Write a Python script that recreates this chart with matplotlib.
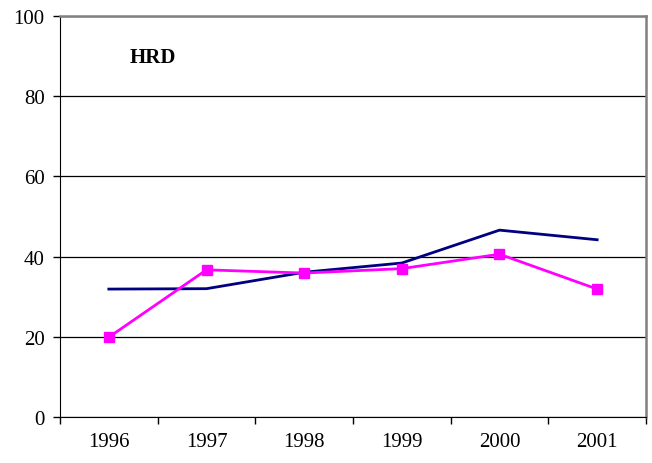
import matplotlib.pyplot as plt
import numpy as np

plt.rcParams['font.family'] = ['Liberation Serif', 'DejaVu Serif']

years = ['1996', '1997', '1998', '1999', '2000', '2001']
navy_vals = [31.9, 32.0, 36.1, 38.4, 46.6, 44.2]
pink_vals = [19.9, 36.7, 35.9, 37.0, 40.6, 31.9]

fig = plt.figure(figsize=(6.52, 4.64), dpi=100)
ax = fig.add_axes([60/652, 1 - 418/464, 586/652, 401/464])

x = np.arange(len(years))
ax.plot(x, navy_vals, color='#000080', lw=2, zorder=3)
ax.plot(x, pink_vals, color='#ff00ff', lw=2, marker='s', ms=7, zorder=4)

ax.set_xlim(-0.5, len(years) - 0.5)
ax.set_ylim(0, 100)
ax.set_yticks(range(0, 101, 20))
ax.yaxis.grid(True, color='black', lw=0.9)
ax.set_axisbelow(True)

# category ticks sit between the years, labels in the middle
ax.set_xticks(np.arange(-0.5, len(years), 1.0))
ax.set_xticklabels([])
ax.set_xticks(x, minor=True)
ax.set_xticklabels(years, minor=True)
ax.tick_params(axis='x', which='minor', length=0, pad=11, labelsize=15)
ax.tick_params(axis='x', which='major', length=5, width=1, direction='out')
ax.tick_params(axis='y', length=5, width=1, direction='out', labelsize=15, pad=6)

ax.spines['left'].set_color('black')
ax.spines['bottom'].set_color('black')
ax.spines['top'].set_color('#808080')
ax.spines['top'].set_linewidth(1.8)
ax.spines['right'].set_color('#808080')
ax.spines['right'].set_linewidth(1.8)

ax.text(153, 464 - 58, 'HRD', transform=None, fontsize=15, fontweight='bold',
        ha='center', va='center')

fig.savefig('out.png', dpi=100)
